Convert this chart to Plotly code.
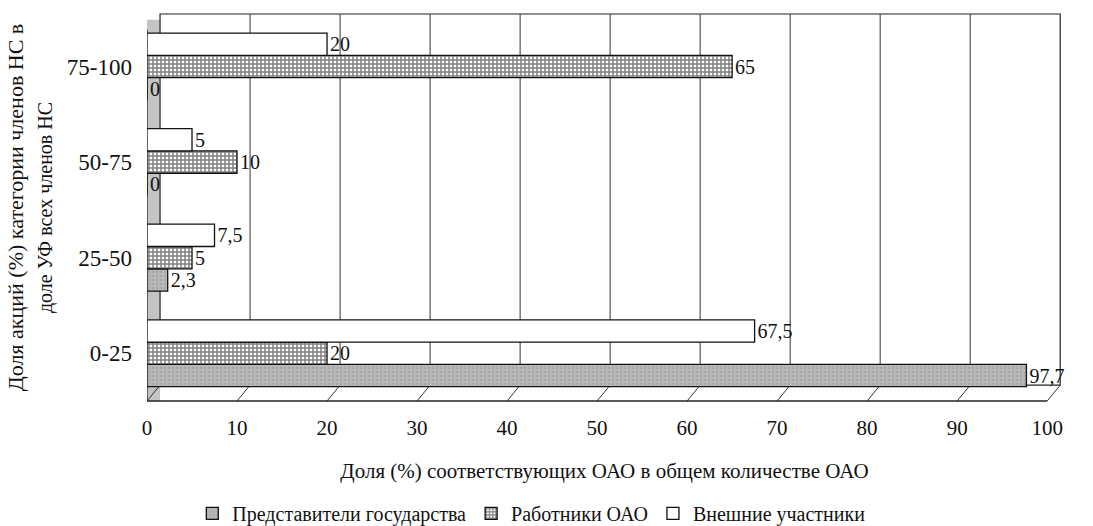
import plotly.graph_objects as go

categories = ["0-25", "25-50", "50-75", "75-100"]
series_names = ["Представители государства", "Работники ОАО", "Внешние участники"]
gov_values = [97.7, 2.3, 0, 0]
workers_values = [20, 5, 10, 65]
external_values = [67.5, 7.5, 5, 20]
x_ticks = [0, 10, 20, 30, 40, 50, 60, 70, 80, 90, 100]

FONT = "Liberation Serif"
DEPTH_X = 1.45      # 3D depth of the back wall in data units
DEPTH_Y = 0.041     # 3D depth of the floor in paper units


def fmt(v):
    return f"{v:g}".replace(".", ",")


styles = [
    dict(color="#b0b0b0", pattern=dict(shape=".", fgcolor="#909090", bgcolor="#b8b8b8", size=4, solidity=0.25)),
    dict(color="white", pattern=dict(shape="+", fgcolor="#000000", bgcolor="white", size=4, solidity=0.6)),
    dict(color="white", pattern=dict(shape="")),
]

fig = go.Figure()
for name, vals, st in zip(series_names, [gov_values, workers_values, external_values], styles):
    fig.add_trace(go.Bar(
        y=categories, x=vals, name=name, orientation="h",
        marker=dict(color=st["color"], pattern=st["pattern"], line=dict(color="#111111", width=1.3)),
        text=[fmt(v) for v in vals], textposition="outside", cliponaxis=False,
        textfont=dict(family=FONT, size=20, color="#111111"),
    ))

# back wall, floor and left wall of the pseudo-3D frame
shapes = []
shapes.append(dict(type="rect", xref="x", yref="paper", x0=0, x1=DEPTH_X, y0=0, y1=0.985,
                   fillcolor="#c4c4c4", line=dict(width=0), layer="below"))
shapes.append(dict(type="rect", xref="x", yref="paper", x0=DEPTH_X, x1=100 + DEPTH_X, y0=DEPTH_Y, y1=1,
                   fillcolor="white", line=dict(color="#222222", width=1.2), layer="below"))
for t in x_ticks[1:-1]:
    shapes.append(dict(type="line", xref="x", yref="paper", x0=t + DEPTH_X, x1=t + DEPTH_X,
                       y0=DEPTH_Y, y1=1, line=dict(color="#333333", width=1), layer="below"))
for t in x_ticks:
    shapes.append(dict(type="line", xref="x", yref="paper", x0=t, x1=t + DEPTH_X,
                       y0=0, y1=DEPTH_Y, line=dict(color="#333333", width=1), layer="below"))
shapes.append(dict(type="line", xref="x", yref="paper", x0=0, x1=100, y0=0, y1=0,
                   line=dict(color="#222222", width=1.3), layer="below"))
shapes.append(dict(type="line", xref="x", yref="paper", x0=0, x1=0, y0=0, y1=0.96,
                   line=dict(color="#222222", width=1.3), layer="below"))

fig.update_layout(
    width=1093, height=526,
    margin=dict(l=147, r=31, t=14, b=125, autoexpand=False),
    paper_bgcolor="white", plot_bgcolor="white",
    barmode="group", bargap=0.3, bargroupgap=0,
    font=dict(family=FONT, size=20, color="#111111"),
    showlegend=True,
    shapes=shapes,
    legend=dict(orientation="h", x=0.42, xanchor="center", y=-0.24, yanchor="top",
                font=dict(family=FONT, size=20), traceorder="normal",
                itemwidth=30, tracegroupgap=0),
    xaxis=dict(range=[0, 100 + DEPTH_X + 0.2], tickvals=x_ticks, showgrid=False, zeroline=False,
               showline=False, ticks="", ticklabelstandoff=12, automargin=False,
               tickfont=dict(family=FONT, size=21),
               title=dict(text="Доля (%) соответствующих ОАО в общем количестве ОАО",
                          font=dict(family=FONT, size=21), standoff=24)),
    yaxis=dict(categoryorder="array", categoryarray=categories, range=[-0.5, 3.55], showgrid=False,
               showline=False, zeroline=False, ticks="", ticklabelstandoff=14, automargin=False,
               tickfont=dict(family=FONT, size=23),
               title=dict(text="Доля акций (%) категории членов НС в<br>"
                               "<span style='font-size:20px'>доле УФ всех членов НС</span>",
                          font=dict(family=FONT, size=22), standoff=8)),
)

fig.write_html("out.html", config={"displayModeBar": False},
               post_script="document.body.style.margin='0px';")
